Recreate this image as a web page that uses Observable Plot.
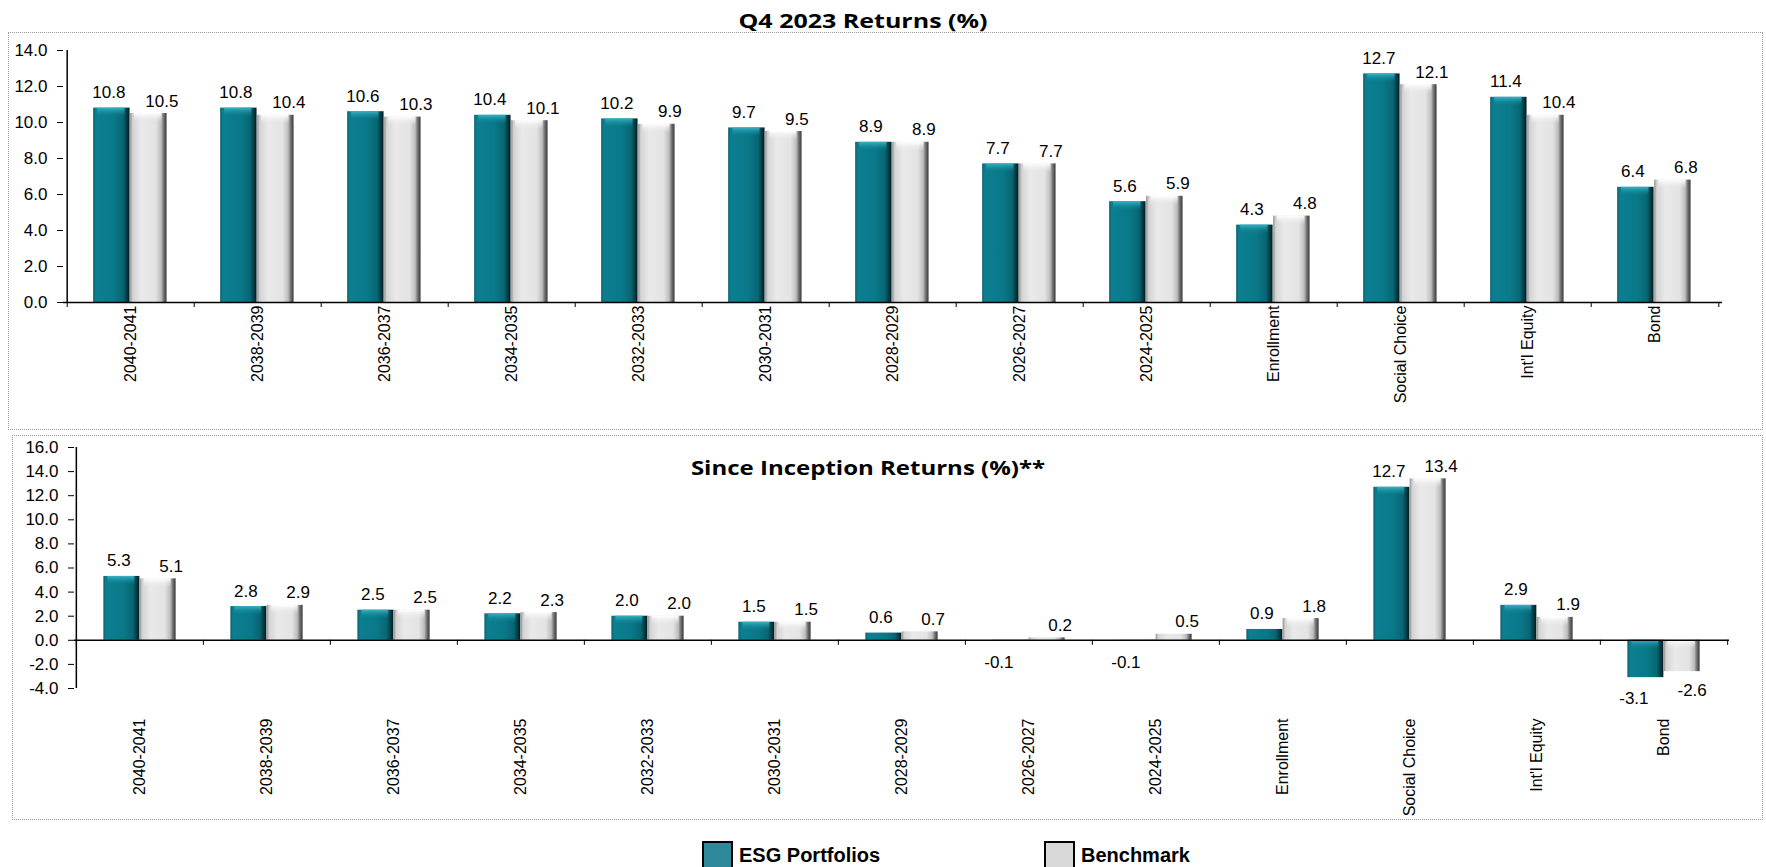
<!DOCTYPE html>
<html><head><meta charset="utf-8">
<script src="https://cdn.jsdelivr.net/npm/d3@7"></script>
<script src="https://cdn.jsdelivr.net/npm/@observablehq/plot@0.6"></script>
<style>
body{margin:0;background:#fff;}
#root{position:relative;width:1766px;height:867px;overflow:hidden;font-family:"Liberation Sans",Arial,sans-serif;}
.box{position:absolute;border:1px dotted #9a9a9a;box-sizing:border-box;}
.title{position:absolute;font-family:"Open Sans",sans-serif;font-weight:700;font-size:20px;white-space:nowrap;color:#000;}
.chart{position:absolute;left:0;}
.leg{position:absolute;display:flex;align-items:center;font-family:"Liberation Sans",Arial,sans-serif;font-weight:700;font-size:20px;color:#000;white-space:nowrap;}
.sw{display:inline-block;width:27px;height:24px;border:2px solid #000;margin-right:6px;}
</style></head>
<body>
<div id="root">
<svg width="0" height="0" style="position:absolute">
 <defs>
  <linearGradient id="gEsg" x1="0" y1="0" x2="1" y2="0">
   <stop offset="0" stop-color="#0b5e6b"/>
   <stop offset="0.07" stop-color="#0b7f90"/>
   <stop offset="0.55" stop-color="#0a7989"/>
   <stop offset="0.82" stop-color="#086673"/>
   <stop offset="0.92" stop-color="#053d45"/>
   <stop offset="1" stop-color="#021a1e"/>
  </linearGradient>
  <linearGradient id="gBench" x1="0" y1="0" x2="1" y2="0">
   <stop offset="0" stop-color="#8e8e8e"/>
   <stop offset="0.07" stop-color="#d4d4d4"/>
   <stop offset="0.3" stop-color="#e9e9e9"/>
   <stop offset="0.7" stop-color="#e3e3e3"/>
   <stop offset="0.85" stop-color="#bdbdbd"/>
   <stop offset="0.93" stop-color="#6a6a6a"/>
   <stop offset="1" stop-color="#3a3a3a"/>
  </linearGradient>
  <linearGradient id="cEsg" x1="0" y1="0" x2="0" y2="1">
   <stop offset="0" stop-color="#39b3c6" stop-opacity="1"/>
   <stop offset="1" stop-color="#0b7f90" stop-opacity="0"/>
  </linearGradient>
  <linearGradient id="cBench" x1="0" y1="0" x2="0" y2="1">
   <stop offset="0" stop-color="#ffffff" stop-opacity="1"/>
   <stop offset="1" stop-color="#e9e9e9" stop-opacity="0"/>
  </linearGradient>
 </defs>
</svg>
<div class="box" style="left:8px;top:32px;width:1755px;height:398px"></div>
<div class="box" style="left:12px;top:435px;width:1751px;height:385px"></div>
<div id="top" class="chart" style="top:32px"></div>
<div id="bottom" class="chart" style="top:435px"></div>
<div class="title" id="t1" style="left:863px;top:20px;transform:translate(-50%,-50%) scaleX(1.25)"></div>
<div class="title" id="t2" style="left:868px;top:467px;transform:translate(-50%,-50%) scaleX(1.2)"></div>
<div id="legend"></div>
</div>
<script>
// ---- data ----
const categories = ["2040-2041","2038-2039","2036-2037","2034-2035","2032-2033","2030-2031","2028-2029","2026-2027","2024-2025","Enrollment","Social Choice","Int'l Equity","Bond"];
const q4Esg   = [10.8,10.8,10.6,10.4,10.2,9.7,8.9,7.7,5.6,4.3,12.7,11.4,6.4];
const q4Bench = [10.5,10.4,10.3,10.1,9.9,9.5,8.9,7.7,5.9,4.8,12.1,10.4,6.8];
const siEsg   = [5.3,2.8,2.5,2.2,2.0,1.5,0.6,-0.1,-0.1,0.9,12.7,2.9,-3.1];
const siBench = [5.1,2.9,2.5,2.3,2.0,1.5,0.7,0.2,0.5,1.8,13.4,1.9,-2.6];
const yTicksTop = [0,2,4,6,8,10,12,14];
const yTicksBottom = [-4,-2,0,2,4,6,8,10,12,14,16];
const seriesNames = ["ESG Portfolios","Benchmark"];
const titleTop = "Q4 2023 Returns (%)";
const titleBottom = "Since Inception Returns (%)**";

const W = 1766;
const seriesFill = ["url(#gEsg)","url(#gBench)"];
const capFill = ["url(#cEsg)","url(#cBench)"];
const legendFill = ["#2e8a9a","#d9d9d9"];

function panel(el, cfg, esg, bench, yTicks) {
  const {ml, mr, mt, mb, H, domain, off, barFrac, labelPad, tickLen} = cfg;
  const n = categories.length;
  const bw = (W - ml - mr) / n;
  const o = bw * off, bwid = bw * barFrac;
  const ppu = (H - mt - mb) / (domain[1] - domain[0]);
  const rows = categories.map((c, i) => ({cat: c, esg: esg[i], bench: bench[i]}));
  const eOff = o + bwid / 2 - bw / 2, bOff = o + 1.5 * bwid - bw / 2;
  const txt = {fontSize: 17, fill: "#000"};
  const fmt = v => v.toFixed(1);
  const capH = 9;
  const plot = Plot.plot({
    width: W, height: H, marginLeft: ml, marginRight: mr, marginTop: mt, marginBottom: mb,
    x: {domain: categories, padding: 0, label: null, axis: null},
    y: {domain, label: null, axis: null},
    style: {fontFamily: "'Liberation Sans', Arial, sans-serif", color: "#000", background: "transparent", overflow: "visible"},
    marks: [
      Plot.barY(rows, {x: "cat", y: "esg", fill: seriesFill[0], insetLeft: o, insetRight: bw - o - bwid}),
      Plot.barY(rows, {x: "cat", y: "bench", fill: seriesFill[1], insetLeft: o + bwid, insetRight: bw - o - 2 * bwid}),
      Plot.barY(rows, {filter: d => Math.abs(d.esg) * ppu > capH + 2, x: "cat", y1: d => Math.max(0, d.esg), y2: d => Math.max(0, d.esg), fill: capFill[0], insetLeft: o + 4, insetRight: bw - o - bwid + 5, insetBottom: -capH}),
      Plot.barY(rows, {filter: d => Math.abs(d.bench) * ppu > capH + 2, x: "cat", y1: d => Math.max(0, d.bench), y2: d => Math.max(0, d.bench), fill: capFill[1], insetLeft: o + bwid + 4, insetRight: bw - o - 2 * bwid + 5, insetBottom: -capH}),
      Plot.ruleY([0], {stroke: "#000", strokeWidth: 1.5}),
      Plot.ruleX(categories, {x: d => d, dx: -bw / 2, y1: 0, y2: -tickLen / ppu, stroke: "#000"}),
      Plot.ruleX([categories[n - 1]], {x: d => d, dx: bw / 2, y1: 0, y2: -tickLen / ppu, stroke: "#000"}),
      Plot.ruleX([categories[0]], {x: d => d, dx: -bw / 2, y1: domain[0], y2: domain[1], stroke: "#000", strokeWidth: 1.5}),
      Plot.axisY({ticks: yTicks, tickFormat: fmt, tickSize: 6, tickPadding: 10, fontSize: 17, label: null}),
      Plot.axisX({tickSize: 0, tickPadding: labelPad, tickRotate: -90, fontSize: 16, label: null}),
      Plot.text(rows, {filter: d => d.esg >= 0, x: "cat", y: "esg", text: d => fmt(d.esg), dx: eOff - 3, dy: -10, lineAnchor: "bottom", ...txt}),
      Plot.text(rows, {filter: d => d.bench >= 0, x: "cat", y: "bench", text: d => fmt(d.bench), dx: bOff + 13, dy: -7, lineAnchor: "bottom", ...txt}),
      Plot.text(rows, {filter: d => d.esg < 0, x: "cat", y: "esg", text: d => fmt(d.esg), dx: eOff - 12, dy: 14, lineAnchor: "top", ...txt}),
      Plot.text(rows, {filter: d => d.bench < 0, x: "cat", y: "bench", text: d => fmt(d.bench), dx: bOff + 10, dy: 12, lineAnchor: "top", ...txt})
    ]
  });
  document.getElementById(el).appendChild(plot);
}

panel("top", {ml: 63, mr: 44, mt: 18, mb: 130, H: 400, domain: [0, 14], off: 0.205, barFrac: 0.29, labelPad: 3, tickLen: 5}, q4Esg, q4Bench, yTicksTop);
panel("bottom", {ml: 74, mr: 37, mt: 12, mb: 132, H: 385, domain: [-4, 16], off: 0.215, barFrac: 0.285, labelPad: 30, tickLen: 5}, siEsg, siBench, yTicksBottom);

document.getElementById("t1").textContent = titleTop;
document.getElementById("t2").textContent = titleBottom;

const legPos = [702, 1044];
const leg = document.getElementById("legend");
seriesNames.forEach((name, i) => {
  const d = document.createElement("div");
  d.className = "leg";
  d.style.left = legPos[i] + "px";
  d.style.top = "841px";
  const sw = document.createElement("span");
  sw.className = "sw";
  sw.style.background = legendFill[i];
  d.appendChild(sw);
  d.appendChild(document.createTextNode(name));
  leg.appendChild(d);
});
</script>
</body></html>
